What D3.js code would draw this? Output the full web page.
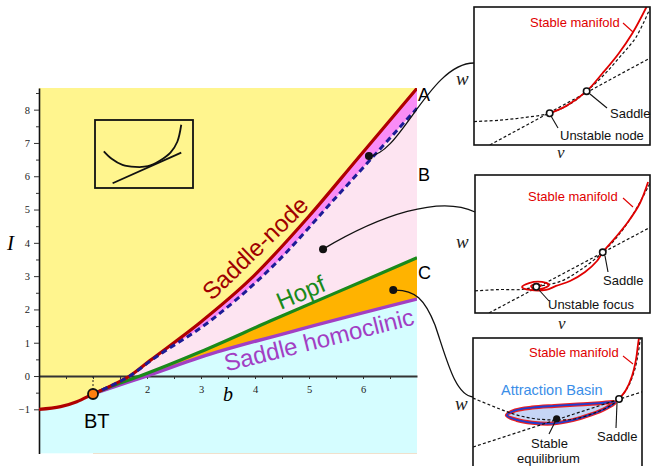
<!DOCTYPE html>
<html>
<head>
<meta charset="utf-8">
<script src="https://cdn.jsdelivr.net/npm/d3@7"></script>
<style>
  body { margin: 0; background: #fff; }
  svg { display: block; }
</style>
</head>
<body>
<svg id="chart" width="651" height="466"></svg>
<script>
// ---- Bifurcation branches in the (b, I) plane ----
const saddleNode = [[0,-1],[0.4,-0.92],[0.7,-0.77],[1,-0.54],[1.35,-0.28],[1.68,0],[2.06,0.47],[2.98,1.6],[3.91,2.9],[5,4.8],[5.91,6.55],[7,8.64]];
const separatrixBranch = [[1,-0.54],[1.35,-0.28],[1.68,0],[2.06,0.45],[3.19,1.68],[4.3,3.25],[5.57,5.49],[7,8.04]];
const hopf = [[1,-0.54],[1.35,-0.3],[1.87,0],[2.98,0.72],[4.28,1.65],[6.07,2.9],[7,3.55]];
const saddleHomoclinic = [[1,-0.54],[1.4,-0.32],[1.99,0],[2.98,0.56],[4.83,1.4],[7,2.31]];
const bogdanovTakens = [1,-0.54];
// parameter values picked in regions A, B, C
const samplePoints = [[6.11,6.61],[5.26,3.81],[6.56,2.58]];

// ---- axis ticks ----
const xTicks = [0.5,1,1.5,2,2.5,3,3.5,4,4.5,5,5.5,6,6.5];
const xTickLabels = [2,3,4,5,6];
const yTicks = [-1,-0.5,0,0.5,1,1.5,2,2.5,3,3.5,4,4.5,5,5.5,6,6.5,7,7.5,8,8.5];
const yTickLabels = [-1,0,1,2,3,4,5,6,7,8];

// ---- phase-plane sketches, (v, w) in 0..100 units of each panel ----
const iconNullcline = [[9,54],[17,43],[28,34],[41,31],[54,32],[66,40],[77,52],[84,68],[88,93]];
const iconLine = [[18,7],[88,52]];

const nodeNullcline = [[0,17],[15,18],[29,20],[43,23],[55,30],[64,39],[74,51],[83,64],[92,78],[100,99]];
const nodeLine = [[9,0],[100,63]];
const nodeManifold = [[43,23],[52,28],[64,39],[73,52],[82,66],[90,81],[98,100]];
const nodeEquilibria = [[43,23],[64,39]];

const focusNullcline = [[0,16],[14,17],[26,17],[35,19],[49,23],[60,31],[73,44],[83,58],[91,73],[100,94]];
const focusLine = [[8,0],[100,62]];
const focusSpiral = [[35.4,18.8],[37.7,19.6],[35.4,21],[32,19.6],[33.7,17.4],[39.4,18.1],[42.3,20.3],[38.3,22.5],[30.9,21.7],[26.9,18.8],[31.4,16.7],[40.6,16.7],[46.3,19.6],[54.3,23.2],[62.9,29.7],[69.7,37.7],[73.1,44.2],[80,54.3],[87.4,65.9],[94.3,79.7],[98.9,94.9]];
const focusEquilibria = [[35,19],[73,44]];

const stableNullcline = [[0,56.5],[10,51.4],[19,47.1],[28,43.5],[38,41.3],[50,40.6],[60,41.3],[72,45.7],[81,50.7],[86.4,55.8],[91.7,64.5],[95.3,75.4],[97.6,87.7],[99,100]];
const stableLine = [[0,21],[100,61]];
const basin = [[20,44],[25,47.5],[35,49.6],[48,50.8],[62,51.8],[75,52.8],[84,53.4],[79,49.3],[70,44.6],[59,40.5],[47,38],[35,38.6],[26,40.6]];
const stableManifold = [[86.4,55.8],[90.5,62.3],[94.1,72.5],[96.4,84.1],[97.6,94.9],[98.2,100]];
const stableEquilibrium = [49.5,41.5];
const stableSaddle = [86.4,55.8];

// ---- colours ----
const C = {
  yellow: "#fff58e", cyan: "#d5fdff", magenta: "#f98cf6", pink: "#fde4f1", orange: "#ffb300",
  red: "#b00000", navy: "#1c1c96", green: "#1a8a1a", purple: "#a23fc4",
  manifold: "#e00000", basinBlue: "#3a8ee8"
};
const SANS = "'Liberation Sans', Arial, sans-serif";
const SERIF = "'Liberation Serif', 'Times New Roman', serif";

const svg = d3.select("#chart");
const defs = svg.append("defs");

// ---- main diagram scales ----
const Ilo = -2.33, Ihi = 8.65;
const x = d3.scaleLinear().domain([0, 7]).range([39, 417]);
const y = d3.scaleLinear().domain([Ilo, Ihi]).range([453.6, 88]);

defs.append("clipPath").attr("id", "plotClip").append("rect")
  .attr("x", x(0)).attr("y", y(Ihi)).attr("width", x(7) - x(0)).attr("height", y(Ilo) - y(Ihi));

const plot = svg.append("g").attr("clip-path", "url(#plotClip)");

const areaAbove = d3.area().x(d => x(d[0])).y0(y(Ihi)).y1(d => y(d[1])).curve(d3.curveMonotoneX);
const areaBelow = d3.area().x(d => x(d[0])).y0(y(Ilo)).y1(d => y(d[1])).curve(d3.curveMonotoneX);
const branchLine = d3.line().x(d => x(d[0])).y(d => y(d[1])).curve(d3.curveMonotoneX);

// region fills, painted from the top down
plot.append("rect").attr("x", x(0)).attr("y", y(Ihi))
  .attr("width", x(7) - x(0)).attr("height", y(Ilo) - y(Ihi)).attr("fill", C.cyan);
plot.append("path").attr("d", areaAbove(saddleNode)).attr("fill", C.yellow);
plot.append("path").attr("d", areaBelow(saddleNode.filter(d => d[0] >= 1))).attr("fill", C.magenta);
plot.append("path").attr("d", areaBelow(separatrixBranch)).attr("fill", C.pink);
plot.append("path").attr("d", areaBelow(hopf)).attr("fill", C.orange);
plot.append("path").attr("d", areaBelow(saddleHomoclinic)).attr("fill", C.cyan);

// ---- axes ----
const xAxis = d3.axisBottom(x).tickValues(xTicks).tickSize(3).tickSizeOuter(0).tickPadding(7)
  .tickFormat(d => xTickLabels.includes(d) ? d3.format("d")(d) : "");
const gx = svg.append("g").attr("transform", `translate(0,${y(0)})`).call(xAxis);
gx.select(".domain").attr("stroke", "#333").attr("stroke-width", 1.8);
gx.selectAll(".tick line").attr("stroke", "#333");
gx.selectAll(".tick text").attr("font-family", SERIF).attr("font-size", 10.5).attr("fill", "#222");

const yAxis = d3.axisLeft(y).tickValues(yTicks).tickSize(5).tickSizeOuter(0).tickPadding(4)
  .tickFormat(d => yTickLabels.includes(d) ? d3.format("d")(d) : "");
const gy = svg.append("g").attr("transform", `translate(${x(0)},0)`).call(yAxis);
gy.select(".domain").attr("stroke", "#111").attr("stroke-width", 1.6);
gy.selectAll(".tick line").attr("stroke", "#333")
  .attr("x2", d => yTickLabels.includes(d) ? -5 : -3);
gy.selectAll(".tick text").attr("font-family", SERIF).attr("font-size", 10.5).attr("fill", "#222");

svg.append("text").attr("x", 7).attr("y", 250).attr("font-family", SERIF)
  .attr("font-style", "italic").attr("font-size", 21).text("I");
svg.append("text").attr("x", 223).attr("y", 401).attr("font-family", SERIF)
  .attr("font-style", "italic").attr("font-size", 20).text("b");

// ---- bifurcation curves ----
const curves = svg.append("g").attr("clip-path", "url(#plotClip)").attr("fill", "none");
curves.append("path").attr("d", branchLine(saddleHomoclinic)).attr("stroke", C.purple).attr("stroke-width", 3.4);
curves.append("path").attr("d", branchLine(hopf)).attr("stroke", C.green).attr("stroke-width", 3.2);
curves.append("path").attr("d", branchLine(saddleNode)).attr("stroke", C.red).attr("stroke-width", 3.2);
curves.append("path").attr("d", branchLine(separatrixBranch)).attr("stroke", C.navy)
  .attr("stroke-width", 3).attr("stroke-dasharray", "6,4");

// Bogdanov–Takens point
svg.append("line").attr("x1", x(bogdanovTakens[0])).attr("x2", x(bogdanovTakens[0]))
  .attr("y1", y(0)).attr("y2", y(bogdanovTakens[1]))
  .attr("stroke", "#222").attr("stroke-width", 1).attr("stroke-dasharray", "2,2");
svg.append("circle").attr("cx", x(bogdanovTakens[0])).attr("cy", y(bogdanovTakens[1])).attr("r", 5)
  .attr("fill", "#ff7f0e").attr("stroke", "#111").attr("stroke-width", 1.8);
svg.append("text").attr("x", 84).attr("y", 428).attr("font-family", SANS).attr("font-size", 20).text("BT");

// curve names
function rotated(txt, cx, cy, angle, color, size) {
  svg.append("text").attr("transform", `translate(${cx},${cy}) rotate(${angle})`)
    .attr("text-anchor", "middle").attr("font-family", SANS).attr("font-size", size)
    .attr("fill", color).text(txt);
}
rotated("Saddle-node", 261, 254, -44, "#a00000", 24);
rotated("Hopf", 304, 300, -23, C.green, 24);
rotated("Saddle homoclinic", 321, 348, -14, C.purple, 24);

// region letters
[[101, "A"], [181, "B"], [279, "C"]].forEach(([by, t]) =>
  svg.append("text").attr("x", 418).attr("y", by).attr("font-family", SANS).attr("font-size", 18).text(t));

// ---- pictogram of the nullclines ----
const icon = { x0: 95, y0: 120, x1: 193, y1: 188 };
const iu = d3.scaleLinear().domain([0, 100]).range([icon.x0, icon.x1]);
const iw = d3.scaleLinear().domain([0, 100]).range([icon.y1, icon.y0]);
const iconPath = d3.line().x(d => iu(d[0])).y(d => iw(d[1])).curve(d3.curveCatmullRom);
svg.append("rect").attr("x", icon.x0).attr("y", icon.y0).attr("width", icon.x1 - icon.x0)
  .attr("height", icon.y1 - icon.y0).attr("fill", "none").attr("stroke", "#111").attr("stroke-width", 1.8);
svg.append("path").attr("d", iconPath(iconNullcline)).attr("fill", "none").attr("stroke", "#111").attr("stroke-width", 1.8);
svg.append("path").attr("d", iconPath(iconLine)).attr("fill", "none").attr("stroke", "#111").attr("stroke-width", 1.8);

// ---- phase-plane panels ----
function panel(id, box) {
  const g = svg.append("g");
  defs.append("clipPath").attr("id", id).append("rect")
    .attr("x", box.x0).attr("y", box.y0).attr("width", box.x1 - box.x0).attr("height", box.y1 - box.y0);
  const sx = d3.scaleLinear().domain([0, 100]).range([box.x0, box.x1]);
  const sy = d3.scaleLinear().domain([0, 100]).range([box.y1, box.y0]);
  const inner = g.append("g").attr("clip-path", `url(#${id})`);
  const line = d3.line().x(d => sx(d[0])).y(d => sy(d[1])).curve(d3.curveCatmullRom);
  return { g, inner, sx, sy, line, box };
}
function dashed(p, data) {
  p.inner.append("path").attr("d", p.line(data)).attr("fill", "none")
    .attr("stroke", "#111").attr("stroke-width", 1.2).attr("stroke-dasharray", "3,2.2");
}
function redCurve(p, data) {
  p.inner.append("path").attr("d", p.line(data)).attr("fill", "none")
    .attr("stroke", C.manifold).attr("stroke-width", 1.8);
}
function openPoint(p, d) {
  p.g.append("circle").attr("cx", p.sx(d[0])).attr("cy", p.sy(d[1])).attr("r", 3.2)
    .attr("fill", "#fff").attr("stroke", "#111").attr("stroke-width", 1.6);
}
function leader(x1, y1, x2, y2, color) {
  svg.append("line").attr("x1", x1).attr("y1", y1).attr("x2", x2).attr("y2", y2)
    .attr("stroke", color || "#111").attr("stroke-width", 1.1);
}
function label(tx, ty, t, color, size) {
  svg.append("text").attr("x", tx).attr("y", ty).attr("font-family", SANS)
    .attr("font-size", size || 13).attr("fill", color || "#111").text(t);
}
function frame(p, openBottom) {
  p.g.append("rect").attr("x", p.box.x0).attr("y", p.box.y0)
    .attr("width", p.box.x1 - p.box.x0).attr("height", (openBottom ? 200 : p.box.y1 - p.box.y0))
    .attr("fill", "none").attr("stroke", "#111").attr("stroke-width", 1.6);
}
function axisLetter(tx, ty, t, size) {
  svg.append("text").attr("x", tx).attr("y", ty).attr("font-family", SERIF)
    .attr("font-style", "italic").attr("font-size", size || 19).attr("fill", "#222").text(t);
}

// panel A: unstable node + saddle
const pA = panel("clipA", { x0: 474, y0: 7, x1: 650, y1: 145 });
dashed(pA, nodeNullcline);
dashed(pA, nodeLine);
redCurve(pA, nodeManifold);
frame(pA, false);
nodeEquilibria.forEach(d => openPoint(pA, d));
label(530, 26.5, "Stable manifold", C.manifold);
leader(623, 23, 633, 32, C.manifold);
leader(590, 94, 607, 108);
label(610, 118, "Saddle");
leader(551, 116, 558, 128);
label(560, 140, "Unstable node");
axisLetter(456, 85, "w");
axisLetter(557, 158, "v", 17);

// panel B: unstable focus + saddle
const pB = panel("clipB", { x0: 475, y0: 175, x1: 650, y1: 313 });
dashed(pB, focusNullcline);
dashed(pB, focusLine);
redCurve(pB, focusSpiral);
frame(pB, false);
focusEquilibria.forEach(d => openPoint(pB, d));
label(528, 200.5, "Stable manifold", C.manifold);
leader(623, 198, 633, 207, C.manifold);
leader(605, 256, 608, 272);
label(603, 285, "Saddle");
leader(539, 290, 549, 301);
label(548, 309, "Unstable focus");
axisLetter(456, 248, "w");
axisLetter(558, 329, "v", 17);

// panel C: stable equilibrium with its basin + saddle
const pC = panel("clipC", { x0: 473, y0: 338, x1: 642, y1: 476 });
const basinPath = d3.line().x(d => pC.sx(d[0])).y(d => pC.sy(d[1])).curve(d3.curveCatmullRomClosed);
pC.inner.append("path").attr("d", basinPath(basin)).attr("fill", "#c6d6f6")
  .attr("stroke", "#ee2020").attr("stroke-width", 4);
pC.inner.append("path").attr("d", basinPath(basin)).attr("fill", "none")
  .attr("stroke", "#1f3fd0").attr("stroke-width", 1.8);
dashed(pC, stableNullcline);
dashed(pC, stableLine);
redCurve(pC, stableManifold);
frame(pC, true);
pC.g.append("circle").attr("cx", pC.sx(stableEquilibrium[0])).attr("cy", pC.sy(stableEquilibrium[1]))
  .attr("r", 3.6).attr("fill", "#111");
openPoint(pC, stableSaddle);
label(529, 357, "Stable manifold", C.manifold);
leader(623, 356, 633, 364, C.manifold);
label(501, 395, "Attraction Basin", C.basinBlue, 14.5);
leader(617, 403, 616, 428);
label(597, 441, "Saddle");
leader(556, 420, 549, 434);
label(531, 448, "Stable");
label(517, 463, "equilibrium");
axisLetter(455, 410, "w");

// ---- call-out connectors from the sample points to the panels ----
const pts = samplePoints.map(d => [x(d[0]), y(d[1])]);
const conn = svg.append("g").attr("fill", "none").attr("stroke", "#111").attr("stroke-width", 1.3);
conn.append("path").attr("d",
  `M${pts[0][0]},${pts[0][1]} C${pts[0][0] + 31},${pts[0][1]} 430,63 474,63`);
conn.append("path").attr("d",
  `M${pts[1][0]},${pts[1][1]} C${pts[1][0] + 57},${pts[1][1] - 34} 440,195 475,212`);
conn.append("path").attr("d",
  `M${pts[2][0]},${pts[2][1]} C${pts[2][0] + 22},${pts[2][1] - 1} 425,300 435,325 C447,360 455,395 473,397`);
pts.forEach(p => svg.append("circle").attr("cx", p[0]).attr("cy", p[1]).attr("r", 4).attr("fill", "#111"));
</script>
</body>
</html>
